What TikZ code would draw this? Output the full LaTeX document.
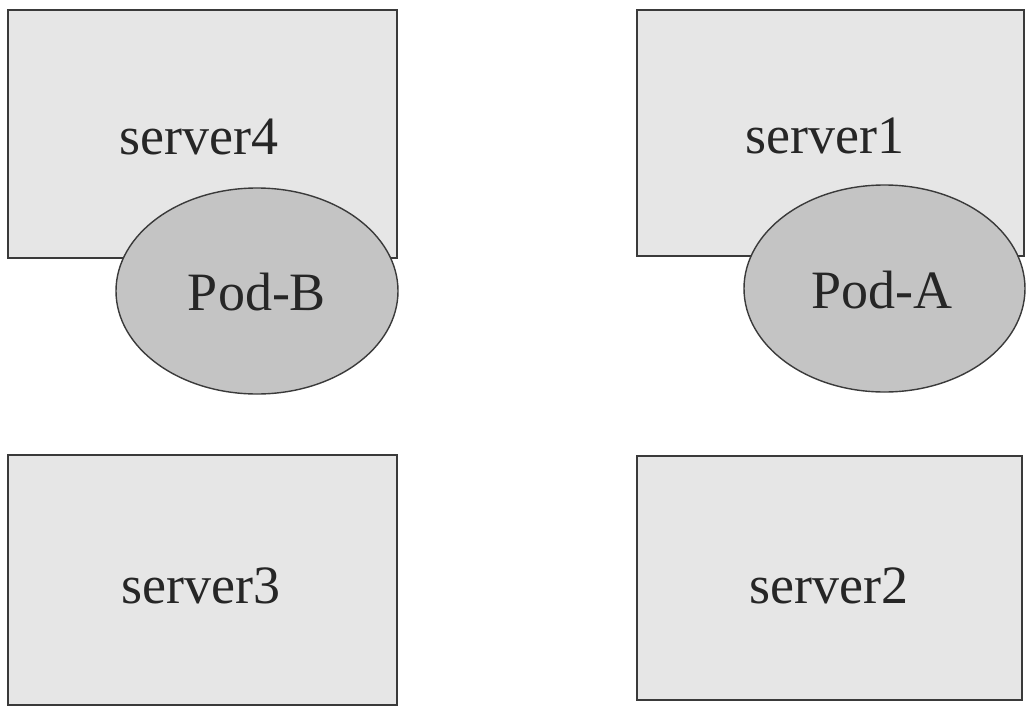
\documentclass[tikz,border=0pt]{standalone}
\usepackage{fontspec}
\setmainfont{Liberation Serif}
\definecolor{boxfill}{HTML}{E6E6E6}
\definecolor{podfill}{HTML}{C4C4C4}
\definecolor{edge}{HTML}{3A3A3A}
\begin{document}
\begin{tikzpicture}[x=1pt,y=-1pt,
  server/.style={draw=edge,line width=1.6pt,fill=boxfill},
  pod/.style={draw=edge,line width=1.4pt,fill=podfill},
  lbl/.style={font=\fontsize{54}{60}\selectfont,text=black!85,anchor=base,inner sep=0pt}]
\useasboundingbox (0,0) rectangle (1034,710);
% servers
\draw[server] (8,10) rectangle (397,258);
\draw[server] (637,10) rectangle (1024,256);
\draw[server] (8,455) rectangle (397,705);
\draw[server] (637,456) rectangle (1022,700);
% pods
\draw[pod] (257,291) ellipse [x radius=141,y radius=103];
\draw[pod] (884.5,288.5) ellipse [x radius=140.5,y radius=103.5];
% labels
\node[lbl] (s4) at (199,154) {server4};
\node[lbl] (s1) at (825,153) {server1};
\node[lbl] (s3) at (201,603) {server3};
\node[lbl] (s2) at (829,603) {server2};
\node[lbl] (pb) at (257,310) {Pod-B};
\node[lbl] (pa) at (882,308) {Pod-A};
\end{tikzpicture}
\end{document}
